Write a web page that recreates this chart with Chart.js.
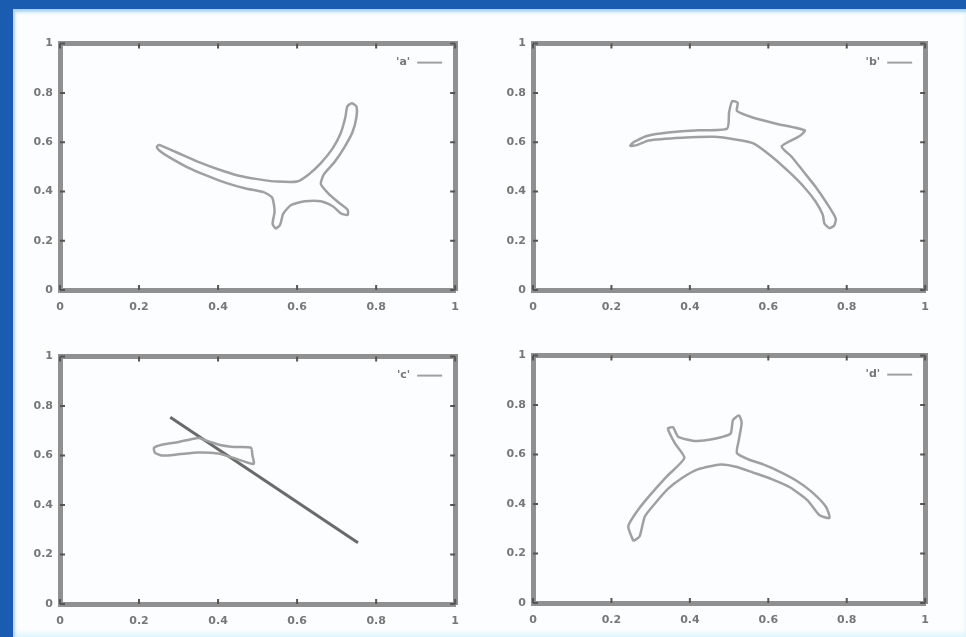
<!DOCTYPE html>
<html>
<head>
<meta charset="utf-8">
<script src="https://cdn.jsdelivr.net/npm/chart.js@4.4.0/dist/chart.umd.min.js"></script>
<style>
  html, body { margin: 0; padding: 0; }
  body { width: 966px; height: 637px; background: #1a5cb0; position: relative; overflow: hidden; }
  #page {
    position: absolute; left: 13px; top: 9px; width: 953px; height: 628px;
    background: #fbfdff;
    box-shadow: inset 2px 3px 3px #a9d2f2, inset 0 -4px 4px #e0f6ff;
  }
  canvas { position: absolute; }
</style>
</head>
<body>
<div id="page"></div>
<canvas id="c1"></canvas>
<canvas id="c2"></canvas>
<canvas id="c3"></canvas>
<canvas id="c4"></canvas>
<script>
// tick positions / labels shared by every panel
const tickValues = [0, 0.2, 0.4, 0.6, 0.8, 1];
const tickLabels = ['0', '0.2', '0.4', '0.6', '0.8', '1'];

const legendNames = ["'a'", "'b'", "'c'", "'d'"];

// outlines, [x, y]
const shapeA = [
  [0.25, 0.59], [0.30, 0.555], [0.35, 0.52], [0.40, 0.49], [0.45, 0.465], [0.50, 0.45],
  [0.55, 0.44], [0.60, 0.44], [0.63, 0.47], [0.66, 0.515], [0.69, 0.575], [0.71, 0.635],
  [0.722, 0.70], [0.727, 0.745], [0.738, 0.758], [0.75, 0.745], [0.75, 0.70], [0.74, 0.64],
  [0.72, 0.58], [0.695, 0.52], [0.668, 0.47], [0.66, 0.43], [0.68, 0.39], [0.705, 0.355],
  [0.728, 0.325], [0.728, 0.305], [0.712, 0.31], [0.69, 0.34], [0.66, 0.36], [0.62, 0.36],
  [0.585, 0.345], [0.565, 0.31], [0.557, 0.265], [0.546, 0.25], [0.538, 0.268], [0.543, 0.32],
  [0.537, 0.375], [0.515, 0.397], [0.47, 0.412], [0.42, 0.435], [0.37, 0.465], [0.32, 0.50],
  [0.275, 0.54], [0.252, 0.565], [0.245, 0.58], [0.25, 0.59]
];

const shapeB = [
  [0.256, 0.60], [0.29, 0.625], [0.35, 0.64], [0.42, 0.648], [0.495, 0.655], [0.50, 0.72],
  [0.508, 0.767], [0.522, 0.76], [0.52, 0.727], [0.56, 0.70], [0.62, 0.675], [0.693, 0.648],
  [0.68, 0.625], [0.634, 0.583], [0.66, 0.54], [0.69, 0.48], [0.72, 0.42], [0.75, 0.35],
  [0.772, 0.29], [0.768, 0.262], [0.756, 0.251], [0.743, 0.27], [0.739, 0.305], [0.72, 0.36],
  [0.69, 0.42], [0.655, 0.476], [0.61, 0.54], [0.562, 0.595], [0.52, 0.61], [0.461, 0.622],
  [0.38, 0.618], [0.295, 0.607], [0.265, 0.588], [0.248, 0.585], [0.256, 0.60]
];

const lineC = [[0.279, 0.755], [0.754, 0.248]];

const shapeC = [
  [0.35, 0.672], [0.30, 0.655], [0.26, 0.645], [0.238, 0.632], [0.24, 0.612], [0.258, 0.60],
  [0.30, 0.605], [0.35, 0.612], [0.40, 0.608], [0.44, 0.59], [0.49, 0.566], [0.487, 0.60],
  [0.483, 0.632], [0.44, 0.635], [0.40, 0.645], [0.35, 0.672]
];

const shapeD = [
  [0.256, 0.25], [0.243, 0.31], [0.265, 0.37], [0.294, 0.428], [0.34, 0.51], [0.386, 0.586],
  [0.362, 0.645], [0.344, 0.705], [0.357, 0.71], [0.37, 0.672], [0.41, 0.655], [0.445, 0.659],
  [0.48, 0.67], [0.504, 0.685], [0.51, 0.74], [0.525, 0.758], [0.532, 0.73], [0.525, 0.66],
  [0.52, 0.606], [0.55, 0.58], [0.587, 0.56], [0.63, 0.53], [0.672, 0.494], [0.71, 0.45],
  [0.747, 0.389], [0.756, 0.344], [0.73, 0.356], [0.70, 0.415], [0.655, 0.468], [0.61, 0.50],
  [0.562, 0.527], [0.52, 0.55], [0.479, 0.56], [0.42, 0.54], [0.38, 0.505], [0.344, 0.461],
  [0.31, 0.40], [0.285, 0.349], [0.272, 0.27], [0.256, 0.25]
];

const panels = [
  { id: 'c1', area: [60, 38, 460, 290], name: legendNames[0], shapes: [shapeA], lines: [] },
  { id: 'c2', area: [533, 38, 930, 290], name: legendNames[1], shapes: [shapeB], lines: [] },
  { id: 'c3', area: [60, 351, 460, 604], name: legendNames[2], shapes: [shapeC], lines: [lineC] },
  { id: 'c4', area: [533, 350, 930, 603], name: legendNames[3], shapes: [shapeD], lines: [] }
];

const LEFT = 40, RIGHT = 10, TOP = 8, BOTTOM = 28;

// inward tick marks on all four sides
const innerTicks = {
  id: 'innerTicks',
  afterDraw(chart) {
    const { ctx, chartArea: a, scales } = chart;
    ctx.save();
    ctx.strokeStyle = '#555';
    ctx.lineWidth = 2;
    tickValues.forEach(v => {
      const px = scales.x.getPixelForValue(v);
      const py = scales.y.getPixelForValue(v);
      ctx.beginPath();
      ctx.moveTo(px, a.bottom); ctx.lineTo(px, a.bottom - 5);
      ctx.moveTo(px, a.top); ctx.lineTo(px, a.top + 5);
      ctx.moveTo(a.left, py); ctx.lineTo(a.left + 5, py);
      ctx.moveTo(a.right, py); ctx.lineTo(a.right - 5, py);
      ctx.stroke();
    });
    ctx.restore();
  }
};

// gnuplot style key: name then a short line sample
const keyPlugin = {
  id: 'keyPlugin',
  afterDraw(chart, args, opts) {
    const { ctx, chartArea: a } = chart;
    ctx.save();
    ctx.font = 'bold 11px "DejaVu Sans"';
    ctx.fillStyle = '#777';
    ctx.textAlign = 'right';
    ctx.textBaseline = 'middle';
    ctx.fillText(opts.text, a.right - 45, a.top + 19);
    ctx.strokeStyle = '#a0a0a0';
    ctx.lineWidth = 2;
    ctx.beginPath();
    ctx.moveTo(a.right - 38, a.top + 19);
    ctx.lineTo(a.right - 13, a.top + 19);
    ctx.stroke();
    ctx.restore();
  }
};

function axis(pos, showLabels) {
  const horizontal = pos === 'bottom' || pos === 'top';
  return {
    type: 'linear',
    position: pos,
    min: 0,
    max: 1,
    afterBuildTicks: s => { s.ticks = tickValues.map(v => ({ value: v })); },
    afterFit: s => {
      if (pos === 'left') s.width = LEFT;
      if (pos === 'right') s.width = RIGHT;
      if (pos === 'top') s.height = TOP;
      if (pos === 'bottom') s.height = BOTTOM;
    },
    grid: { drawOnChartArea: false, drawTicks: false },
    border: { display: true, color: '#909090', width: 5 },
    ticks: {
      display: showLabels,
      color: '#777',
      font: { family: 'DejaVu Sans', size: 11, weight: 'bold' },
      padding: horizontal ? 11 : 7,
      callback: v => tickLabels[tickValues.indexOf(Math.round(v * 10) / 10)]
    }
  };
}

panels.forEach(p => {
  const [L, T, R, B] = p.area;
  const cv = document.getElementById(p.id);
  const w = R - L + LEFT + RIGHT;
  const h = B - T + TOP + BOTTOM;
  cv.width = w; cv.height = h;
  cv.style.left = (L - LEFT) + 'px';
  cv.style.top = (T - TOP) + 'px';
  cv.style.width = w + 'px';
  cv.style.height = h + 'px';

  const datasets = [];
  p.shapes.forEach(s => datasets.push({
    data: s.map(q => ({ x: q[0], y: q[1] })),
    showLine: true, pointRadius: 0, borderColor: '#a0a0a0', borderWidth: 2.5, fill: false,
    tension: 0.2
  }));
  p.lines.forEach(s => datasets.push({
    data: s.map(q => ({ x: q[0], y: q[1] })),
    showLine: true, pointRadius: 0, borderColor: '#6a6a6a', borderWidth: 3, fill: false
  }));

  new Chart(cv, {
    type: 'scatter',
    data: { datasets: datasets },
    options: {
      responsive: false,
      animation: false,
      layout: { padding: 0 },
      plugins: { legend: { display: false }, tooltip: { enabled: false }, keyPlugin: { text: p.name } },
      scales: {
        x: axis('bottom', true),
        x2: axis('top', false),
        y: axis('left', true),
        y2: axis('right', false)
      }
    },
    plugins: [innerTicks, keyPlugin]
  });
});
</script>
</body>
</html>
